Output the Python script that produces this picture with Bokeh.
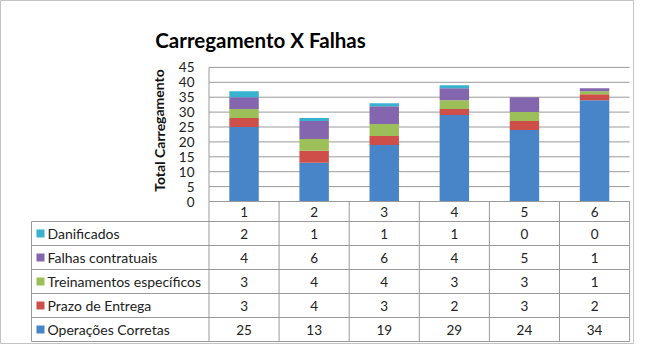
from bokeh.plotting import figure
from bokeh.models import Range1d, ColumnDataSource
from bokeh.core.properties import value
from bokeh.embed import file_html
from bokeh.resources import INLINE

# ---------------- data ----------------
categories = ["1", "2", "3", "4", "5", "6"]
operacoes_corretas = [25, 13, 19, 29, 24, 34]
prazo_entrega = [3, 4, 3, 2, 3, 2]
treinamentos = [3, 4, 4, 3, 3, 1]
falhas_contratuais = [4, 6, 6, 4, 5, 1]
danificados = [2, 1, 1, 1, 0, 0]

series_names = ["Operações Corretas", "Prazo de Entrega", "Treinamentos específicos",
                "Falhas  contratuais", "Danificados"]
series_values = [operacoes_corretas, prazo_entrega, treinamentos, falhas_contratuais, danificados]
series_colors = ["#4784C8", "#CE4F4A", "#9DBF5A", "#8466AE", "#38B2CF"]

y_ticks = [0, 5, 10, 15, 20, 25, 30, 35, 40, 45]
title_text = "Carregamento X Falhas"
y_title = "Total Carregamento"

# ---------------- layout ----------------
W, H = 634, 344
PX_X, X0_PX = 70.1, 208.5      # px per category, canvas px of left edge of plot area
PX_Y, Y0_PX = 2.98, 201.0      # px per unit, canvas px of value 0


def dx(px):
    return 0.5 + (px - X0_PX) / PX_X


def dy(px):
    return (Y0_PX - px) / PX_Y


HDR = 20 / PX_Y
ROW = 24 / PX_Y
LEFT = dx(31)
N = len(categories)
X_MIN, X_MAX = 0.5, N + 0.5
TABLE_BOTTOM = -(HDR + 5 * ROW)
FONT = value("Lato")
LINE = "#9a9a9a"

p = figure(width=W, height=H, x_range=Range1d(dx(0), dx(W)), y_range=Range1d(dy(H), dy(0)),
           x_axis_type=None, y_axis_type=None, toolbar_location=None, output_backend="svg",
           min_border=0, outline_line_color="#c4c4c4", background_fill_color="white",
           border_fill_color="white")

# gridlines
p.segment(x0=X_MIN, x1=X_MAX, y0=y_ticks[1:], y1=y_ticks[1:], line_color=LINE, line_width=1)

# stacked bars
xs = [i + 1 for i in range(N)]
keys = ["s%d" % i for i in range(len(series_names))]
data = {"x": xs}
for k, v in zip(keys, series_values):
    data[k] = v
src = ColumnDataSource(data)
p.vbar_stack(keys, x="x", width=0.42, color=series_colors, line_color=None, source=src)

# y tick labels
p.text(x=[dx(194)] * len(y_ticks), y=y_ticks, text=[str(t) for t in y_ticks],
       text_align="right", text_baseline="middle", text_font=FONT,
       text_font_size="13.5px", text_color="#222222")

# y axis title
p.text(x=[dx(158.5)], y=[dy(130)], text=[y_title], angle=1.5708, text_align="center",
       text_baseline="middle", text_font=FONT, text_font_size="14px",
       text_font_style="bold", text_color="#111111")

# title
p.text(x=[dx(260)], y=[dy(39)], text=[title_text], text_align="center",
       text_baseline="alphabetic", text_font=FONT, text_font_size="20.5px",
       text_font_style="bold", text_color="#000000")

# table lines
hx0, hx1, hy = [], [], []
hx0.append(X_MIN); hx1.append(X_MAX); hy.append(0)
for n in range(6):
    hx0.append(LEFT); hx1.append(X_MAX); hy.append(-(HDR + n * ROW))
p.segment(x0=hx0, x1=hx1, y0=hy, y1=hy, line_color=LINE, line_width=1)

vx, vy0, vy1 = [], [], []
vx.append(X_MIN); vy0.append(y_ticks[-1]); vy1.append(TABLE_BOTTOM)
for i in range(1, N + 1):
    vx.append(i + 0.5); vy0.append(0); vy1.append(TABLE_BOTTOM)
vx.append(LEFT); vy0.append(-HDR); vy1.append(TABLE_BOTTOM)
p.segment(x0=vx, x1=vx, y0=vy0, y1=vy1, line_color=LINE, line_width=1)

# header (category labels)
p.text(x=xs, y=[-HDR / 2] * N, text=categories, text_align="center", text_baseline="middle",
       text_font=FONT, text_font_size="13.5px", text_color="#222222")

# table rows (top row = last series)
tx, ty, tt = [], [], []
lx, ly, lt, lc = [], [], [], []
for r, si in enumerate(reversed(range(len(series_names)))):
    yc = -(HDR + (r + 0.5) * ROW)
    for i, v in enumerate(series_values[si]):
        tx.append(xs[i]); ty.append(yc); tt.append(str(v))
    lx.append(dx(47)); ly.append(yc); lt.append(series_names[si]); lc.append(series_colors[si])

p.text(x=tx, y=ty, text=tt, text_align="center", text_baseline="middle",
       text_font=FONT, text_font_size="13.5px", text_color="#222222")
p.text(x=lx, y=ly, text=lt, text_align="left", text_baseline="middle",
       text_font=FONT, text_font_size="14px", text_color="#222222")
p.scatter(x=[dx(40)] * len(ly), y=ly, marker="square", size=8, color=lc, line_color=None)

open("out.html", "w").write(file_html(p, INLINE))
